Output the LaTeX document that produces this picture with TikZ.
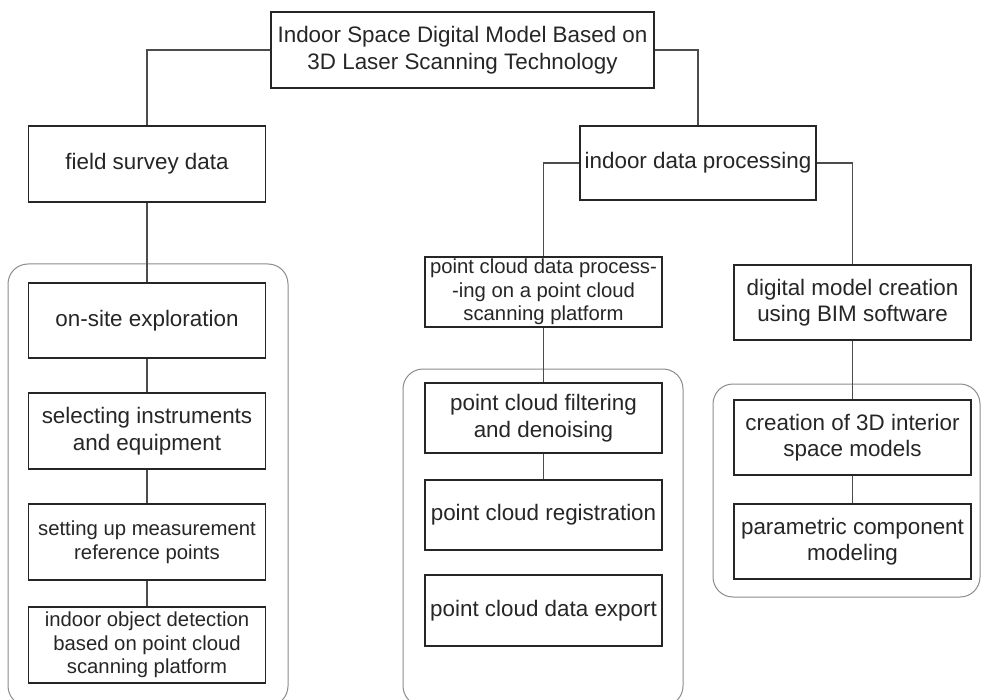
\documentclass[tikz,border=0pt]{standalone}
\usepackage{fontspec}
\setmainfont{Liberation Sans}
\begin{document}
\begin{tikzpicture}[x=1pt,y=-1pt,
  box/.style={draw=black!85, line width=1.2pt, fill=white, rectangle, align=center,
    inner sep=0pt, minimum width=237pt, text=black!85,
    font=\fontsize{22.4}{26.5}\selectfont},
  smallbox/.style={box, font=\fontsize{20.3}{23.5}\selectfont},
  group/.style={draw=black!45, line width=1pt, rounded corners=20pt},
  link/.style={draw=black!70, line width=1.3pt}
]
\useasboundingbox (0,0) rectangle (982,700);
\begin{scope}
\clip (0,0) rectangle (982,700);
% rounded group frames
\draw[group] (8,264) rectangle (288,706);
\draw[group] (403,369) rectangle (683,706);
\draw[group] (713,384) rectangle (980,597);
\end{scope}

% root
\node[box, minimum width=383pt, minimum height=76pt] (root) at (462.5,50)
  {Indoor Space Digital Model Based on\\3D Laser Scanning Technology};

% left branch
\node[box, minimum height=76pt] (field) at (147,164) {field survey data};
\node[box, minimum height=75pt] (onsite) at (147,320.5) {on-site exploration};
\node[box, minimum height=76pt] (select) at (147,431) {selecting instruments\\and equipment};
\node[smallbox, minimum height=76pt] (setup) at (147,542) {setting up measurement\\reference points};
\node[smallbox, minimum height=76pt] (detect) at (147,645) {indoor object detection\\based on point cloud\\scanning platform};

% middle branch
\node[box, minimum width=236pt, minimum height=74pt] (proc) at (698,163) {indoor data processing};
\node[smallbox, minimum height=70pt] (pcdp) at (543.5,292) {point cloud data process-\\-ing on a point cloud\\scanning platform};
\node[box, minimum height=70pt] (filter) at (543.5,418) {point cloud filtering\\and denoising};
\node[box, minimum height=70pt] (regis) at (543.5,515) {point cloud registration};
\node[box, minimum height=71pt] (export) at (543.5,610.5) {point cloud data export};

% right branch
\node[box, minimum height=75pt] (bim) at (852.5,302.5) {digital model creation\\using BIM software};
\node[box, minimum height=75pt] (create) at (852.5,437.5) {creation of 3D interior\\space models};
\node[box, minimum height=75pt] (param) at (852.5,541.5) {parametric component\\modeling};

% connectors
\draw[link] (root.west) -| (field.north);
\draw[link] (root.east) -| (proc.north);
\draw[link] (proc.west) -| (pcdp.north);
\draw[link] (proc.east) -| (bim.north);
\draw[link] (field) -- (onsite);
\draw[link] (onsite) -- (select);
\draw[link] (select) -- (setup);
\draw[link] (setup) -- (detect);
\draw[link] (pcdp) -- (filter);
\draw[link] (filter) -- (regis);
\draw[link] (bim) -- (create);
\draw[link] (create) -- (param);
\end{tikzpicture}
\end{document}
